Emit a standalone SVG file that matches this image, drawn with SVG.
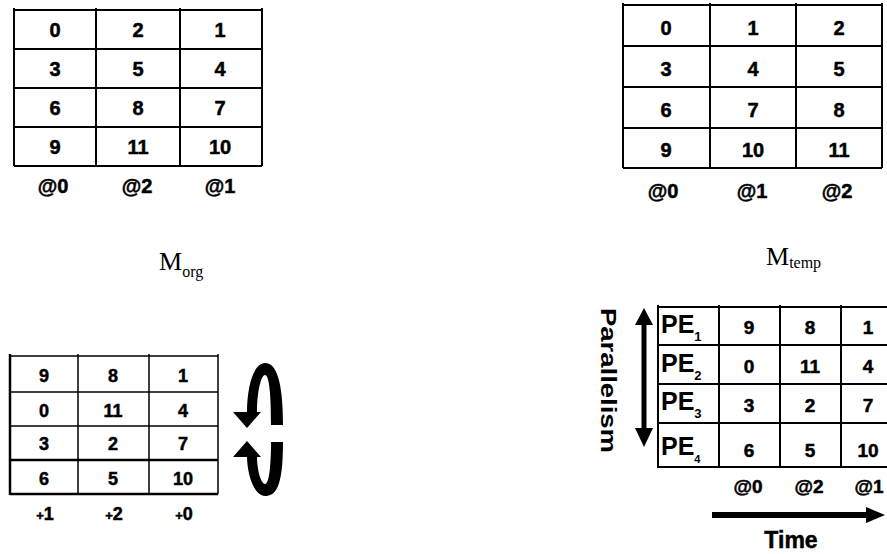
<svg xmlns="http://www.w3.org/2000/svg" width="887" height="554" viewBox="0 0 887 554">
<style>
.g{fill:none;stroke:#000;stroke-width:2}
.gt{fill:none;stroke:#000;stroke-width:1.5}
.n{font-family:"Liberation Sans",Arial,sans-serif;font-weight:bold;text-anchor:middle;fill:#000;stroke:#000;stroke-width:0.5}
.t21{font-size:20px}
.t18{font-size:18px}
.t19{font-size:19px}
.m{font-family:"Liberation Serif","Times New Roman",serif;fill:#000}
</style>
<rect width="887" height="554" fill="#fff"/>

<g id="m-org">
  <path class="g" d="M14 10H262M14 49H262M14 88H262M14 127H262M14 166H262M14 8V166M96 8V166M180 8V166M262 8V166"/>
  <g class="n t21">
    <text x="55" y="37">0</text><text x="138" y="37">2</text><text x="220" y="37">1</text>
    <text x="55" y="76">3</text><text x="138" y="76">5</text><text x="220" y="76">4</text>
    <text x="55" y="115">6</text><text x="138" y="115">8</text><text x="220" y="115">7</text>
    <text x="55" y="154">9</text><text x="138" y="154">11</text><text x="220" y="154">10</text>
  </g>
  <g class="n t21">
    <text x="53" y="193">@0</text><text x="137" y="193">@2</text><text x="220" y="193">@1</text>
  </g>
</g>

<g id="m-temp">
  <path class="g" d="M623 5H882M623 46H882M623 87H882M623 128H882M623 168H882M623 3V168M710 3V168M796 3V168M882 3V168"/>
  <g class="n t21">
    <text x="666" y="35">0</text><text x="753" y="35">1</text><text x="839" y="35">2</text>
    <text x="666" y="76">3</text><text x="753" y="76">4</text><text x="839" y="76">5</text>
    <text x="666" y="117">6</text><text x="753" y="117">7</text><text x="839" y="117">8</text>
    <text x="666" y="157">9</text><text x="753" y="157">10</text><text x="839" y="157">11</text>
  </g>
  <g class="n t21">
    <text x="663" y="198">@0</text><text x="752" y="198">@1</text><text x="837" y="198">@2</text>
  </g>
</g>

<g id="label-org">
  <text class="m" x="159" y="270" font-size="26">M<tspan font-size="16" dy="7">org</tspan></text>
</g>
<g id="label-temp">
  <text class="m" x="766" y="265" font-size="26">M<tspan font-size="16" dy="3">temp</tspan></text>
</g>

<g id="rotated">
  <path class="gt" d="M10 356H218M10 392H218M10 426H218M78 354V494M149 354V494M218 354V494"/>
  <path d="M10 460H218M10 494H218M10 354V495" fill="none" stroke="#000" stroke-width="2.5"/>
  <g class="n t18">
    <text x="44" y="382">9</text><text x="113" y="382">8</text><text x="183" y="382">1</text>
    <text x="44" y="417">0</text><text x="113" y="417">11</text><text x="183" y="417">4</text>
    <text x="44" y="450">3</text><text x="113" y="450">2</text><text x="183" y="450">7</text>
    <text x="44" y="485">6</text><text x="113" y="485">5</text><text x="183" y="485">10</text>
  </g>
  <g class="n" font-size="18">
    <text x="45" y="520"><tspan font-size="13">+</tspan>1</text>
    <text x="114" y="520"><tspan font-size="13">+</tspan>2</text>
    <text x="184" y="520"><tspan font-size="13">+</tspan>0</text>
  </g>
</g>

<g id="rotate-arrows" fill="#000">
  <path d="M283 425C283 380 276 363 265 363C254 363 247 385 247 413L257 413C257 392 261 375 265 375C269 375 271 392 271 425Z"/>
  <path d="M233 412L261 412L247 428Z"/>
  <path d="M283 442C283 487 276 496 265 496C254 496 247 474 247 456L257 456C257 470 261 484 265 484C269 484 271 467 271 442Z"/>
  <path d="M233 457L261 457L247 441Z"/>
</g>

<g id="schedule">
  <path class="g" d="M658 307H887M658 345H887M658 384H887M658 423H887M658 467H887M658 305V468M719 305V468M780 305V468M841 305V468"/>
  <g font-family="Liberation Sans,Arial,sans-serif" font-weight="bold" fill="#000">
    <text x="661" y="333" font-size="25">PE<tspan font-size="13" dy="8">1</tspan></text>
    <text x="661" y="372" font-size="25">PE<tspan font-size="13" dy="8">2</tspan></text>
    <text x="661" y="410" font-size="25">PE<tspan font-size="13" dy="8">3</tspan></text>
    <text x="661" y="455" font-size="25">PE<tspan font-size="11" dy="8">4</tspan></text>
  </g>
  <g class="n t19">
    <text x="749" y="334">9</text><text x="810" y="334">8</text><text x="868" y="334">1</text>
    <text x="749" y="373">0</text><text x="810" y="373">11</text><text x="868" y="373">4</text>
    <text x="749" y="412">3</text><text x="810" y="412">2</text><text x="868" y="412">7</text>
    <text x="749" y="457">6</text><text x="810" y="457">5</text><text x="868" y="457">10</text>
  </g>
  <g class="n t19">
    <text x="748" y="493">@0</text><text x="809" y="493">@2</text><text x="869" y="493">@1</text>
  </g>
</g>

<g id="parallelism">
  <text transform="translate(601,308) rotate(90)" font-family="Liberation Sans,Arial,sans-serif" font-weight="bold" font-size="22" textLength="145" lengthAdjust="spacingAndGlyphs">Parallelism</text>
  <path d="M644 322V432" stroke="#000" stroke-width="5"/>
  <path d="M635 325L653 325L644 308Z M635 428L653 428L644 447Z" fill="#000"/>
</g>

<g id="time">
  <path d="M712 515H868" stroke="#000" stroke-width="6"/>
  <path d="M866 507L885 515L866 523Z" fill="#000"/>
  <text class="n" x="791" y="548" font-size="23">Time</text>
</g>
</svg>
